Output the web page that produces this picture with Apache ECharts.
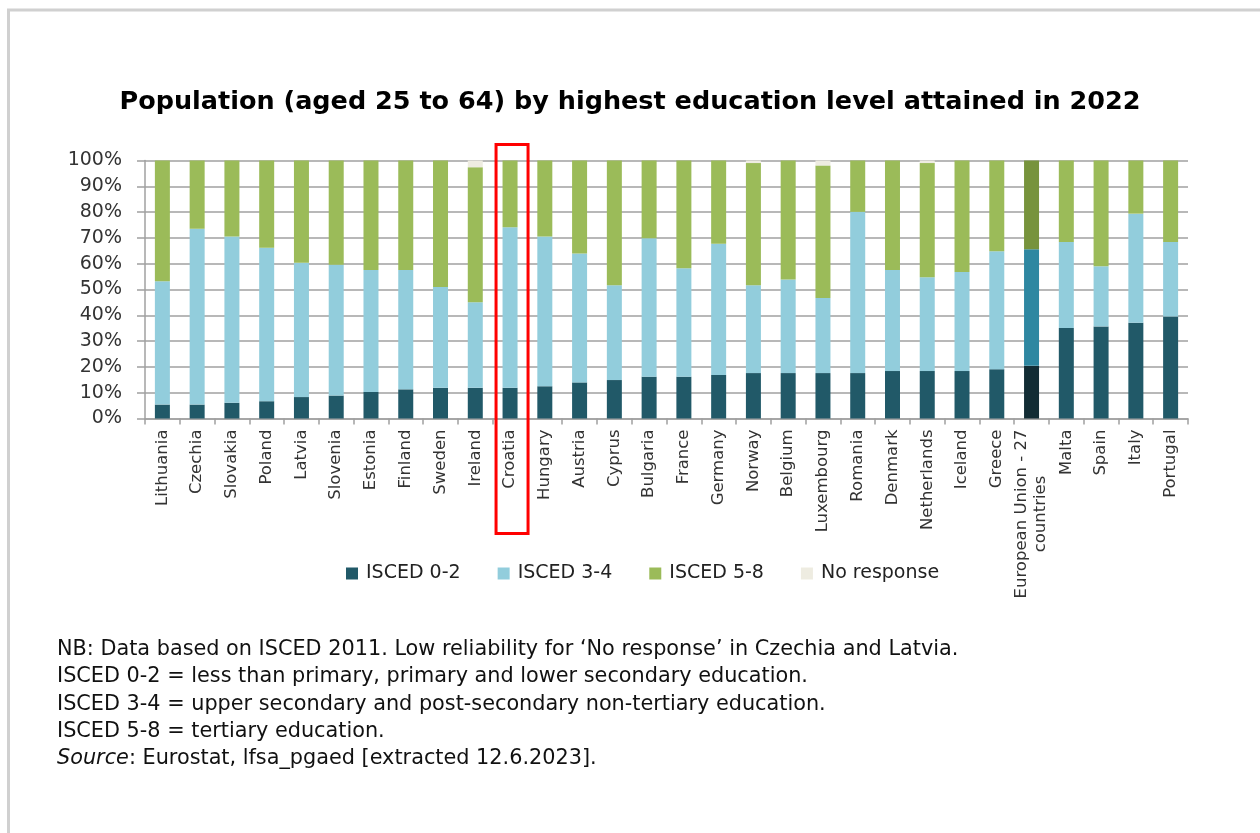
<!DOCTYPE html>
<html>
<head>
<meta charset="utf-8">
<style>
html,body{margin:0;padding:0;background:#fff;}
#chart{width:1260px;height:833px;}
</style>
<script src="https://cdn.jsdelivr.net/npm/echarts@6/dist/echarts.min.js"></script>
</head>
<body>
<div id="chart"></div>
<script>
const countries = ["Lithuania","Czechia","Slovakia","Poland","Latvia","Slovenia","Estonia","Finland","Sweden","Ireland","Croatia","Hungary","Austria","Cyprus","Bulgaria","France","Germany","Norway","Belgium","Luxembourg","Romania","Denmark","Netherlands","Iceland","Greece","European Union - 27\ncountries","Malta","Spain","Italy","Portugal"];
const isced02 = [5.4,5.4,6.1,6.7,8.3,8.9,10.3,11.3,11.9,11.9,11.9,12.5,14.0,14.9,16.2,16.2,16.9,17.6,17.6,17.6,17.6,18.4,18.4,18.4,19.1,20.4,35.1,35.7,37.1,39.5];
const isced34 = [47.8,68.1,64.4,59.5,52.1,50.7,47.3,46.3,39.1,33.2,62.2,58.0,50.0,36.7,53.7,42.0,50.8,34.0,36.3,29.1,62.5,39.2,36.3,38.4,45.7,45.2,33.3,23.3,42.3,28.9];
const isced58 = [46.8,26.5,29.5,33.8,39.6,40.4,42.4,42.4,49.0,52.3,25.9,29.5,36.0,48.4,30.1,41.8,32.3,47.4,46.1,51.4,19.9,42.4,44.3,43.2,35.2,34.4,31.6,41.0,20.6,31.6];
const noResponse = [0,0.1,0,0,0.1,0,0,0,0,2.6,0,0,0,0,0,0,0,1.0,0,1.9,0,0,1.0,0,0,0,0,0,0,0];
const yTicks = [0,10,20,30,40,50,60,70,80,90,100];
const seriesNames = ["ISCED 0-2","ISCED 3-4","ISCED 5-8","No response"];
const highlightCategory = "Croatia";
const euCategory = "European Union - 27\ncountries";

const colors = ['#215968','#92cddc','#9bbb59','#eeece1'];
const euColors = ['#122c34','#2e87a1','#77933c','#eeece1'];
const euIndex = countries.indexOf(euCategory);

function mk(name, data, i){
  return {
    name: name, type:'bar', stack:'total', barWidth:15,
    itemStyle:{color:colors[i]},
    data: data.map((v,k)=> k===euIndex ? {value:v, itemStyle:{color:euColors[i]}} : v),
    emphasis:{disabled:true}
  };
}

const chart = echarts.init(document.getElementById('chart'));
const FONT = 'DejaVu Sans';
const option = {
  animation:false,
  textStyle:{fontFamily:FONT},
  title:{
    text:'Population (aged 25 to 64) by highest education level attained in 2022',
    left:'center', top:84,
    textStyle:{fontFamily:FONT, fontSize:25.5, fontWeight:'bold', color:'#000'}
  },
  legend:{
    data:seriesNames, top:559, left:341,
    itemWidth:12, itemHeight:12, itemGap:37,
    icon:'rect',
    textStyle:{fontFamily:FONT, fontSize:19, color:'#222', padding:[0,0,0,3]}
  },
  grid:{left:145, right:72, top:160.5, bottom:414.5, containLabel:false},
  xAxis:{
    type:'category', data:countries,
    axisLine:{lineStyle:{color:'#a0a0a0', width:1.5}},
    axisTick:{show:true, interval:0, length:6, lineStyle:{color:'#a0a0a0', width:1.5}},
    axisLabel:{interval:0, rotate:90, fontFamily:FONT, fontSize:16.5, color:'#333', margin:11, lineHeight:19,
      formatter: v => v.indexOf('\n')>=0 ? v.split('\n').map(s=>'{c|'+s+'}').join('\n') : v,
      rich:{c:{align:'center', fontFamily:FONT, fontSize:16.5, color:'#333', lineHeight:19}}
    }
  },
  yAxis:{
    type:'value', min:0, max:100, interval:10,
    axisLine:{show:true, lineStyle:{color:'#a0a0a0', width:1.5}},
    axisTick:{show:true, length:8, lineStyle:{color:'#a0a0a0', width:1.5}},
    splitLine:{show:true, lineStyle:{color:'#a0a0a0', width:1.5}},
    axisLabel:{formatter:'{value}%', fontFamily:FONT, fontSize:19, color:'#333', margin:23}
  },
  series:[mk(seriesNames[0],isced02,0), mk(seriesNames[1],isced34,1), mk(seriesNames[2],isced58,2), mk(seriesNames[3],noResponse,3)]
};
chart.setOption(option);

const hx = chart.convertToPixel({xAxisIndex:0}, highlightCategory);
const yTop = chart.convertToPixel({yAxisIndex:0}, 100);
const yBot = chart.convertToPixel({yAxisIndex:0}, 0);

const notes = [
  'NB: Data based on ISCED 2011. Low reliability for \u2018No response\u2019 in Czechia and Latvia.',
  'ISCED 0-2 = less than primary, primary and lower secondary education.',
  'ISCED 3-4 = upper secondary and post-secondary non-tertiary education.',
  'ISCED 5-8 = tertiary education.',
  '{i|Source}: Eurostat, lfsa_pgaed [extracted 12.6.2023].'
];

chart.setOption({
  graphic:[
    {type:'line', shape:{x1:7, y1:10, x2:1260, y2:10}, style:{stroke:'#d0d0d0', lineWidth:3}},
    {type:'line', shape:{x1:8.5, y1:10, x2:8.5, y2:833}, style:{stroke:'#d0d0d0', lineWidth:3}},
    {type:'rect', shape:{x:hx-14, y:yTop-16, width:32, height:(yBot-yTop)+131}, style:{fill:'none', stroke:'#ff0000', lineWidth:3}, z:100},
    {type:'text', left:57, top:636, style:{
      text:notes.join('\n'), fontFamily:FONT, fontSize:20.8, lineHeight:27.3, fill:'#111',
      rich:{i:{fontStyle:'italic', fontFamily:FONT, fontSize:20.8, fill:'#111'}}
    }}
  ]
});
</script>
</body>
</html>
